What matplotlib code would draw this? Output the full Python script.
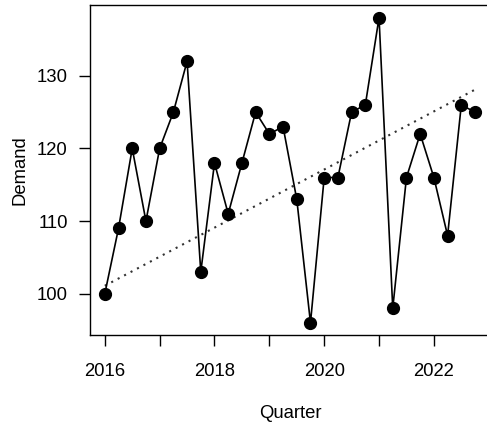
import numpy as np
import matplotlib
matplotlib.use("Agg")
import matplotlib.pyplot as plt

plt.rcParams["font.family"] = ["Liberation Sans", "DejaVu Sans"]

# quarterly demand, 2016 Q1 .. 2022 Q4
quarters = np.arange(28) / 4 + 2016
demand = [100, 109, 120, 110, 120, 125, 132, 103, 118, 111, 118, 125, 122, 123,
          113, 96, 116, 116, 125, 126, 138, 98, 116, 122, 116, 108, 126, 125]

# dotted trend line endpoints
trend_x = [2016, 2022.75]
trend_y = [101.1, 128.1]

fig = plt.figure(figsize=(4.87, 4.23), dpi=100)
ax = fig.add_axes([0.1848, 0.208, 0.821, 0.779])

ax.plot(quarters, demand, color="black", lw=1.2, marker="o", ms=8.5, zorder=3)
ax.plot(trend_x, trend_y, color="#333333", lw=1.5, ls=(0, (1, 2.5)), zorder=2)

ax.set_xlim(2015.73, 2023.02)
ax.set_ylim(94.32, 139.68)

ax.set_xticks(range(2016, 2023))
ax.set_xticklabels(["2016", "", "2018", "", "2020", "", "2022"])
ax.set_yticks([100, 110, 120, 130])
ax.tick_params(direction="out", length=8, width=1, labelsize=13.3, pad=8)
ax.tick_params(axis="x", pad=12)

for s in ax.spines.values():
    s.set_linewidth(1)

ax.set_xlabel("Quarter", fontsize=13.3, labelpad=18)
ax.set_ylabel("Demand", fontsize=13.3, labelpad=6)

fig.savefig("out.png", dpi=100)
